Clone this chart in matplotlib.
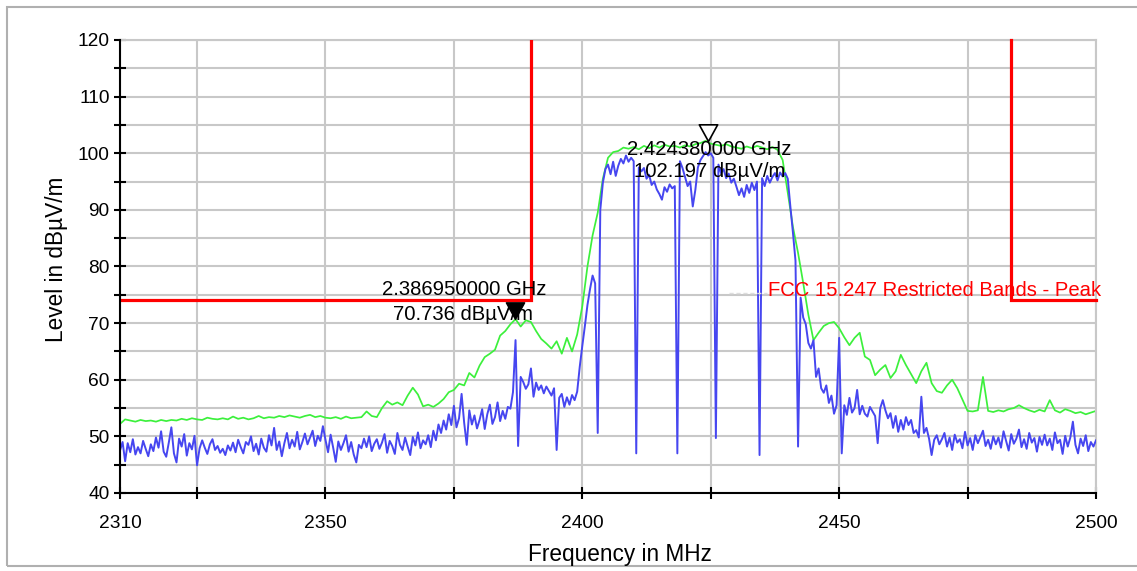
import numpy as np
import matplotlib
matplotlib.use("Agg")
import matplotlib.pyplot as plt
from matplotlib.path import Path
from matplotlib.patches import Rectangle

plt.rcParams['font.family'] = ['Liberation Sans', 'DejaVu Sans']

# ---------------- data ----------------
F_START = 2310.0
BLUE_STEP = 0.5
GREEN_STEP = 1.0

# Peak trace (green), 1 MHz steps from 2310 to 2500
green = [
    52.2, 53.0, 52.8, 52.6, 52.9, 52.7, 52.8, 52.6, 52.9, 52.7,
    52.9, 52.8, 53.1, 52.9, 53.2, 53.0, 52.9, 53.3, 53.1, 53.0,
    53.2, 53.0, 53.5, 53.1, 53.3, 53.0, 53.2, 53.6, 53.2, 53.4,
    53.3, 53.6, 53.4, 53.7, 53.5, 53.3, 53.6, 53.8, 53.4, 53.6,
    53.3, 53.2, 53.4, 53.1, 53.5, 53.2, 53.3, 53.4, 54.4, 53.6,
    53.4, 55.0, 56.2, 55.6, 56.0, 55.5, 57.2, 58.6, 57.4, 55.3,
    55.6, 55.2, 55.8, 56.6, 57.8, 58.2, 59.3, 59.0, 61.2, 60.4,
    62.5, 64.0, 64.6, 65.3, 67.8, 68.6, 69.8, 70.7, 69.4, 70.5,
    70.2, 68.6, 67.2, 66.4, 65.5, 66.8, 64.6, 67.4, 65.0, 68.0,
    73.0, 80.0, 85.5, 89.5, 95.5, 99.2, 100.2, 100.4, 101.0, 100.8,
    101.1, 100.7, 101.3, 100.9, 101.4, 101.0, 101.5, 101.2, 101.3, 101.0,
    101.4, 101.2, 101.6, 101.8, 102.2, 101.7, 101.5, 101.3, 101.6, 101.2,
    101.0, 100.8, 101.2, 100.9, 101.3, 101.0, 100.7, 101.1, 100.6, 98.8,
    93.0, 87.0, 82.4, 77.1, 71.5, 67.0, 68.3, 69.5, 70.0, 70.2,
    69.1, 67.5, 66.1, 67.4, 68.3, 64.1, 63.5, 60.8, 61.8, 62.6,
    60.3, 61.5, 64.4, 62.6, 61.0, 59.4, 61.5, 63.0, 59.4, 58.0,
    57.7, 59.0, 60.0, 58.5, 56.5, 54.5, 54.4, 54.6, 60.5, 54.5,
    54.3, 54.6, 54.4, 54.8, 55.0, 55.5, 55.0, 54.6, 54.3, 54.7,
    54.4, 56.4, 54.6, 54.2, 54.8, 54.5, 54.1, 54.3, 53.9, 54.2, 54.5,
]

# Average trace (blue), 0.5 MHz steps from 2310 to 2500
blue = [
    47.5, 49.0, 45.6, 48.8, 47.2, 49.5, 46.8, 48.1, 47.0, 49.2, 47.8, 46.5, 48.6, 47.4, 49.8, 48.0, 50.9, 47.3, 46.4, 48.9,
    51.6, 47.0, 45.4, 49.6, 48.2, 50.4, 46.6, 48.8, 47.7, 50.1, 44.9, 47.9, 49.3, 48.0, 46.9, 48.6, 49.5, 47.6, 48.3, 47.1,
    47.8, 46.7, 48.4, 47.5, 48.9, 47.2, 49.4, 48.1, 47.0, 49.0, 48.5, 50.0, 47.4, 48.7, 46.8, 49.6, 48.0, 47.3, 50.2, 48.4,
    51.5, 47.6, 49.1, 46.5, 48.8, 50.6, 47.9, 49.4, 48.2, 50.8, 47.7, 49.0, 50.5, 48.6, 49.8, 51.0, 48.3, 50.1, 49.2, 51.8,
    49.4, 47.2, 50.3, 48.0, 45.5, 49.1, 47.6, 48.8, 50.2, 47.3, 49.0, 46.8, 45.4, 48.5, 47.9, 49.6, 48.1, 50.0, 47.4, 48.7,
    49.5, 47.8, 48.9, 50.4, 47.1, 49.2, 48.3, 46.9, 50.6, 48.5, 47.6, 49.8, 48.2, 46.7, 49.9, 48.4, 50.7, 47.9, 49.3, 48.6,
    50.2, 48.1, 51.0, 49.3, 52.1, 50.6, 52.8, 51.2, 53.9, 52.0, 55.4, 51.6, 53.2, 57.5, 52.4, 48.5, 54.6, 52.1, 53.7, 51.4,
    52.9, 54.8, 51.3, 53.9, 55.6, 52.2, 53.4, 56.0, 52.7, 54.5, 53.1, 55.2, 54.9, 57.8, 67.0, 48.3, 60.5, 59.6, 58.4, 59.2,
    62.0, 57.0, 59.5, 58.2, 59.0, 57.6, 58.8, 58.0, 57.2, 58.5, 47.6, 56.8, 57.5, 55.2, 56.9, 55.6, 57.3, 56.4, 57.9, 62.3,
    66.0, 69.5, 73.2, 76.0, 78.4, 77.0, 50.6, 90.0, 94.8, 97.2, 98.0, 96.3, 98.5, 96.0, 97.8, 99.0, 98.2, 99.6, 98.5, 99.2,
    98.6, 47.0, 97.5, 96.8, 97.4, 95.5, 96.2, 94.4, 95.0, 93.6, 92.8, 91.8, 94.0, 93.2, 94.5, 93.8, 94.2, 47.0, 98.6, 97.4,
    95.8, 94.2, 95.0, 90.6, 93.5, 97.5, 98.8, 99.5, 100.2, 99.6, 100.0, 99.2, 49.7, 98.0, 96.5, 97.2, 95.6, 96.4, 94.8, 95.5,
    94.1, 92.6, 93.8, 92.3, 94.4, 93.0, 94.8, 93.5, 95.0, 46.7, 95.6, 94.2, 96.0, 94.8, 95.8, 96.5, 95.2, 96.6, 95.9, 96.5,
    95.5, 90.6, 86.0, 81.0, 48.2, 74.5, 71.0, 69.8, 66.5, 65.5, 67.0, 60.5, 62.0, 58.5, 57.7, 59.0, 55.9, 57.2, 54.0, 55.5,
    67.4, 47.0, 55.5, 53.8, 56.8, 54.2, 55.0, 58.2, 53.9, 55.4, 54.0, 53.5, 55.2, 54.4, 53.6, 48.8, 55.0, 56.4, 54.6, 53.2,
    54.1, 51.5, 53.6, 50.8, 52.9, 51.2, 53.4, 52.0, 52.9, 50.6, 51.1, 49.8, 57.0, 50.6, 51.5, 49.6, 46.7, 49.4, 50.2, 48.6,
    49.5, 50.6, 48.2, 49.8, 47.6, 50.3, 48.9, 49.5, 47.9, 50.8, 48.4, 49.7, 47.6, 50.2, 48.8, 49.9, 51.0, 48.3, 49.4, 47.8,
    50.0, 48.6, 49.8, 48.0, 50.9, 49.2, 47.5, 50.4, 48.7, 49.6, 51.2, 48.1, 49.5, 47.8, 50.6, 48.9, 49.7, 47.3, 49.9, 48.5,
    50.3, 48.4, 49.6, 47.6, 50.7, 48.8, 49.4, 46.9, 50.1, 48.2, 49.8, 52.6, 48.5, 47.0, 49.6, 48.3, 50.2, 47.4, 49.0, 48.2, 49.3,
]

# Limit line (FCC 15.247 restricted bands, peak)
limit_left_freq = [2310.0, 2390.0, 2390.0]
limit_left_level = [74.0, 74.0, 120.0]
limit_right_freq = [2483.5, 2483.5, 2500.0]
limit_right_level = [120.0, 74.0, 74.0]
limit_label = "FCC 15.247 Restricted Bands - Peak"

# Markers
marker_freq_mhz = [2386.95, 2424.38]
marker_level = [70.736, 102.197]
marker_text1 = ["2.386950000 GHz", "2.424380000 GHz"]
marker_text2 = ["70.736 dBµV/m", "102.197 dBµV/m"]

x_ticks = [2310, 2325, 2350, 2375, 2400, 2425, 2450, 2475, 2500]
x_labels = ["2310", "", "2350", "", "2400", "", "2450", "", "2500"]
y_ticks = list(range(40, 121, 5))
y_labels = [str(v) if v % 10 == 0 else "" for v in y_ticks]

# ---------------- figure ----------------
W, H = 1137, 571
fig = plt.figure(figsize=(W / 100, H / 100), dpi=100)
fig.patch.set_facecolor("white")

# outer frame
fig.patches.append(Rectangle((7 / W, 1 - 566 / H), 1.2, (566 - 7) / H,
                             transform=fig.transFigure, fill=False,
                             edgecolor="#b0b0b0", lw=1.5, zorder=0))

ax = fig.add_axes([120 / W, 1 - 493 / H, 976 / W, 453 / H])
ax.set_xlim(2310, 2500)
ax.set_ylim(40, 120)

grid_c = "#c8c8c8"
ax.set_xticks(x_ticks)
ax.set_xticklabels(x_labels)
ax.set_yticks(y_ticks)
ax.set_yticklabels(y_labels)
ax.grid(True, color=grid_c, lw=1.5, zorder=0)
ax.set_axisbelow(True)
ax.tick_params(axis="both", direction="inout", length=9, width=1.5,
               color="black", labelsize=13.8)
ax.tick_params(axis="y", pad=3)
ax.tick_params(axis="x", pad=11)
for s in ("left", "bottom"):
    ax.spines[s].set_color("black")
    ax.spines[s].set_linewidth(1.5)
    ax.spines[s].set_zorder(5)
for s in ("top", "right"):
    ax.spines[s].set_color(grid_c)
    ax.spines[s].set_linewidth(1.5)

fg = F_START + GREEN_STEP * np.arange(len(green))
fb = F_START + BLUE_STEP * np.arange(len(blue))
ax.plot(fg, green, color="#3cf03c", lw=1.25, zorder=2)
ax.plot(fb, blue, color="#4646f0", lw=1.4, zorder=3)

ax.plot(limit_left_freq, limit_left_level, color="#ff0000", lw=2.3, zorder=4,
        solid_joinstyle="miter")
ax.plot(limit_right_freq, limit_right_level, color="#ff0000", lw=2.3, zorder=4,
        solid_joinstyle="miter", clip_on=False)

# leader (dashed) near the limit label
ax.plot([2428.5, 2436.0], [75.3, 75.3], color="#dddddd", lw=1.0,
        ls=(0, (3, 2)), zorder=4)
ax.text(2436.2, 74.86, limit_label, color="#ff0000", fontsize=14.6,
        ha="left", va="baseline", zorder=6, clip_on=False)

# markers (triangle with tip at the data point)
tri = Path([(-0.55, 1.0), (0.55, 1.0), (0.0, 0.0), (-0.55, 1.0)],
           [Path.MOVETO, Path.LINETO, Path.LINETO, Path.CLOSEPOLY])
ax.plot([marker_freq_mhz[0]], [marker_level[0]], marker=tri, ms=24,
        mfc="black", mec="black", mew=1.0, ls="none", zorder=7)
ax.plot([marker_freq_mhz[1]], [marker_level[1]], marker=tri, ms=24,
        mfc="white", mec="black", mew=1.2, ls="none", zorder=7)

ax.text(2376.97, 74.97, marker_text1[0], fontsize=14.6, ha="center",
        va="baseline", zorder=8)
ax.text(2376.8, 70.57, marker_text2[0], fontsize=14.6, ha="center",
        va="baseline", zorder=8)
ax.text(2424.66, 99.72, marker_text1[1], fontsize=14.6, ha="center",
        va="baseline", zorder=8)
ax.text(2424.86, 95.88, marker_text2[1], fontsize=14.6, ha="center",
        va="baseline", zorder=8)

fig.text(619.5 / W, 1 - 555 / H, "Frequency in MHz", fontsize=16.3,
         ha="center", va="center")
fig.text(57 / W, 1 - 259.5 / H, "Level in dBµV/m", fontsize=16.3,
         ha="center", va="center", rotation=90)

fig.savefig("out.png", dpi=100)
